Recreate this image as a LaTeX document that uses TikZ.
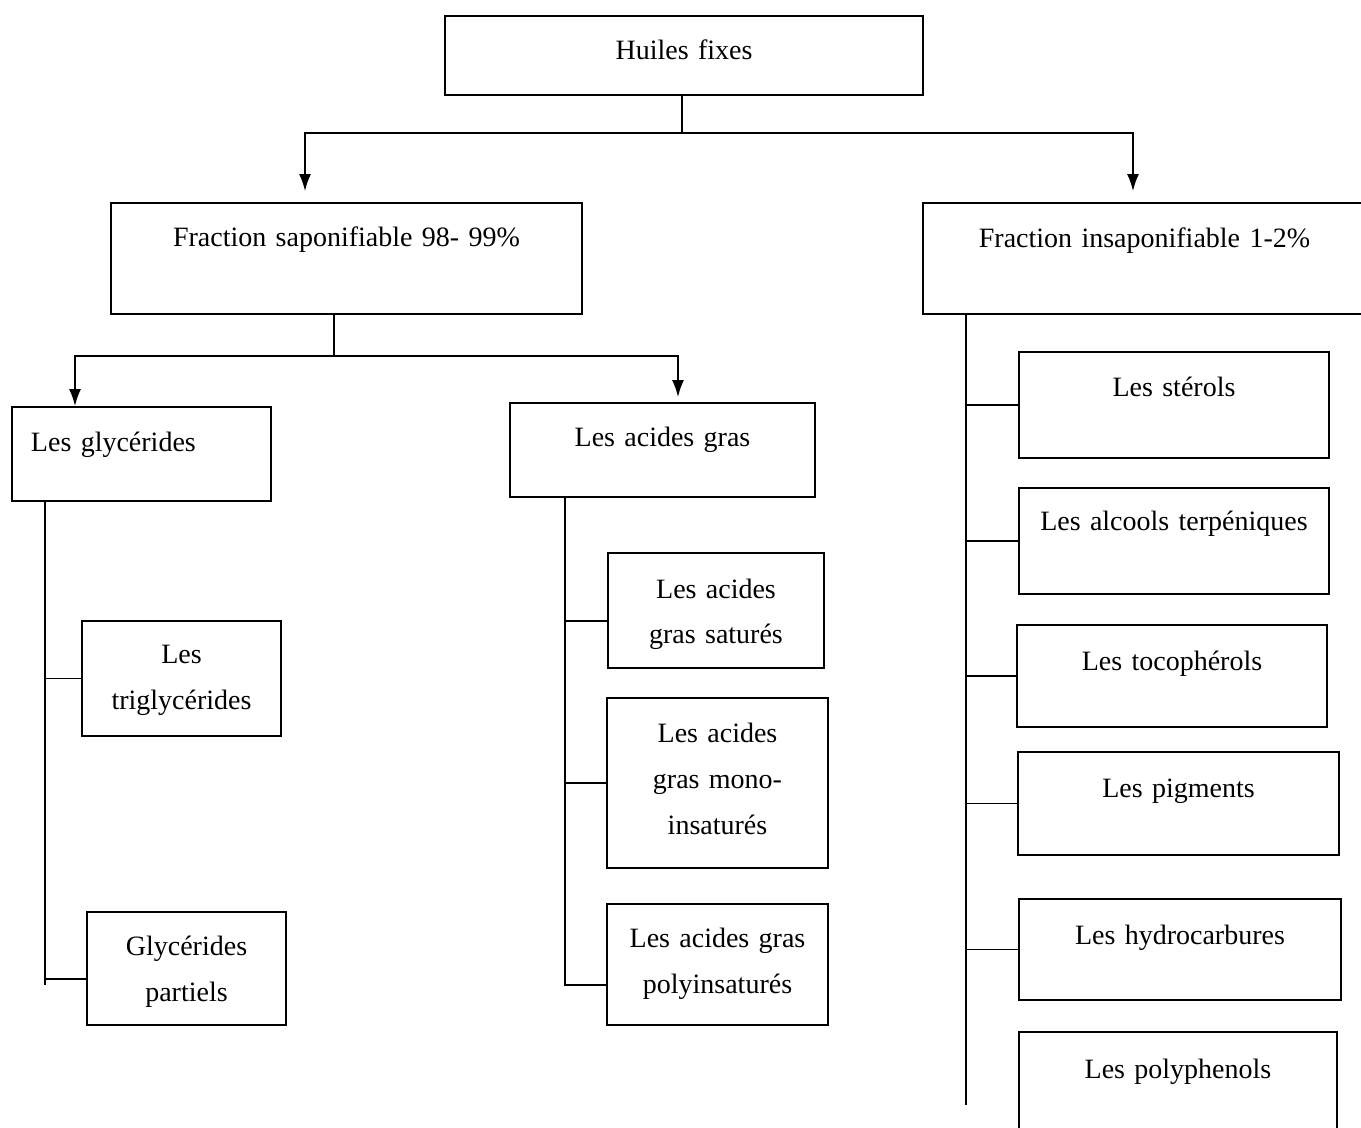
\documentclass[tikz,border=0pt]{standalone}
\usepackage{fontspec}
\setmainfont{Liberation Serif}
\usetikzlibrary{arrows.meta}
\tikzset{
  boite/.style n args={3}{draw, line width=0.9pt, inner sep=0pt, anchor=base,
    align=center, text width=#1pt, text height=#2pt, text depth=#3pt,
    font=\fontsize{14}{23}\selectfont},
  trait/.style={line width=0.9pt}
}

\begin{document}
\begin{tikzpicture}[x=0.5pt, y=-0.5pt, >={Latex[length=8.5pt,width=6pt]}]
      \useasboundingbox (0,0) rectangle (1361,1128);

      % Top and the two fractions
      \node[boite={239}{22}{17.5}] (huiles) at (684,60) {Huiles fixes};
      \node[boite={235.5}{22}{33.5}] (sapon) at (346.5,247) {Fraction saponifiable 98- 99\%};
      \node[boite={221.5}{22.5}{33}] (insap) at (1144.5,248) {Fraction insaponifiable 1-2\%};

      \coordinate (j1) at (682,133);
      \draw[trait] (huiles.south -| j1) -- (j1);
      \draw[trait, ->] (j1) -| ([xshift=-20.75pt, yshift=5.5pt]sapon.north);
      \draw[trait, ->] (j1) -| ([xshift=-5.75pt, yshift=5.5pt]insap.north);

      % Saponifiable fraction
      \node[boite={110.5}{22.5}{24.5}, align=left, inner xsep=9.5pt] (glyc) at (141.5,452) {Les glycérides};
      \node[boite={152.5}{22}{25}] (acides) at (662.5,447) {Les acides gras};

      \coordinate (j2) at (334,356);
      \draw[trait] (sapon.south -| j2) -- (j2);
      \draw[trait, ->] (j2) -| ([xshift=-33.25pt]glyc.north);
      \draw[trait, ->] (j2) -| ([xshift=7.75pt, yshift=2.5pt]acides.north);

      % Glycerides
      \node[boite={99.5}{21}{36.5}] (triglyc) at (181.5,663) {Les\\triglycérides};
      \node[boite={99.5}{21.5}{35}] (partiels) at (186.5,955) {Glycérides\\partiels};

      \coordinate (g1) at (45,985);
      \coordinate (g2) at (45,979);
      \draw[trait] (glyc.south -| g1) -- (g1);
      \draw[trait] (triglyc.west) -- (triglyc.west -| g1);
      \draw[trait] (g2) -- (g2 -| partiels.west);

      % Fatty acids
      \node[boite={108}{22.5}{35}] (satures) at (716,598) {Les acides\\gras saturés};
      \node[boite={110.5}{22}{63}] (mono) at (717.5,742) {Les acides\\gras mono-\\insaturés};
      \node[boite={110.5}{21.5}{39}] (poly) at (717.5,947) {Les acides gras\\polyinsaturés};

      \coordinate (a1) at (565,985);
      \coordinate (a2) at (565,621);
      \draw[trait] (acides.south -| a1) -- (a1) -- (a1 -| poly.west);
      \draw[trait] (a2) -- (a2 -| satures.west);
      \draw[trait] (mono.west) -- (mono.west -| a1);

      % Unsaponifiable fraction
      \node[boite={155}{22.5}{30.5}] (sterols) at (1174,397) {Les stérols};
      \node[boite={155}{21.5}{31.5}] (alcools) at (1174,531) {Les alcools terpéniques};
      \node[boite={155}{22.5}{28.5}] (tocoph) at (1172,670) {Les tocophérols};
      \node[boite={160.5}{22.5}{29}] (pigments) at (1178.5,797) {Les pigments};
      \node[boite={161}{22.5}{28}] (hydro) at (1180,944) {Les hydrocarbures};
      \node[boite={159}{23}{31}] (polyph) at (1178,1078) {Les polyphenols};

      \coordinate (i1) at (966,1105);
      \draw[trait] (insap.south -| i1) -- (i1);
      \draw[trait] (sterols.west) -- (sterols.west -| i1);
      \draw[trait] (alcools.west) -- (alcools.west -| i1);
      \draw[trait] (tocoph.west) -- (tocoph.west -| i1);
      \draw[trait] (pigments.west) -- (pigments.west -| i1);
      \draw[trait] (hydro.west) -- (hydro.west -| i1);
    \end{tikzpicture}
\end{document}
